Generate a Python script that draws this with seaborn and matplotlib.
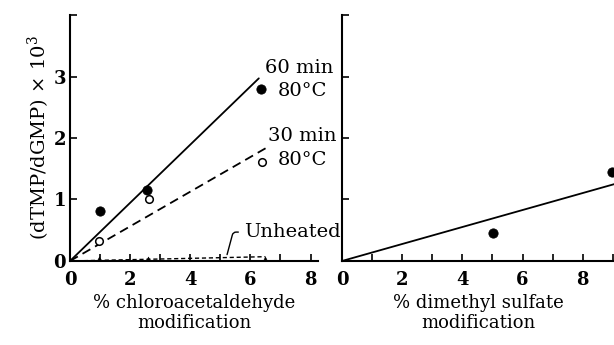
import matplotlib
matplotlib.use("Agg")
import matplotlib.pyplot as plt
import seaborn as sns

# left panel: chloroacetaldehyde
ca_60_x = [1.0, 2.55, 6.35]
ca_60_y = [0.81, 1.15, 2.80]
ca_30_x = [0.97, 2.62, 6.38]
ca_30_y = [0.33, 1.00, 1.61]
ca_unh_x = [0.95, 2.6, 6.5]
ca_unh_y = [0.02, 0.02, 0.01]
fit60_x = [0, 6.28]
fit60_y = [0, 2.97]
fit30_x = [0, 6.53]
fit30_y = [0, 1.84]
fitunh_x = [0, 6.5]
fitunh_y = [0, 0.07]

# right panel: dimethyl sulfate
dms_x = [5.02, 8.97]
dms_y = [0.45, 1.44]
fitdms_x = [0, 9.05]
fitdms_y = [0, 1.25]

sns.set_style("ticks")
plt.rcParams["font.family"] = ["DejaVu Serif"]
plt.rcParams["mathtext.fontset"] = "dejavuserif"
plt.rcParams["text.color"] = "black"
plt.rcParams["axes.labelcolor"] = "black"
plt.rcParams["xtick.color"] = "black"
plt.rcParams["ytick.color"] = "black"

fig = plt.figure(figsize=(6.14, 3.45), dpi=100)
ax1 = fig.add_axes([0.114, 0.2435, 0.404, 0.713])
ax2 = fig.add_axes([0.557, 0.2435, 0.443, 0.713])

k = dict(color="black", linewidth=1.3)
sns.lineplot(x=fit60_x, y=fit60_y, ax=ax1, **k)
sns.lineplot(x=fit30_x, y=fit30_y, ax=ax1, linestyle=(0, (5, 3)), **k)
sns.lineplot(x=fitunh_x, y=fitunh_y, ax=ax1, linestyle=(0, (3, 2)), color="black", linewidth=1.0)
sns.scatterplot(x=ca_60_x, y=ca_60_y, ax=ax1, color="black", s=45, edgecolor="black", zorder=5)
sns.scatterplot(x=ca_30_x, y=ca_30_y, ax=ax1, color="white", s=30, edgecolor="black", linewidth=1.1, zorder=5)
sns.scatterplot(x=ca_unh_x, y=ca_unh_y, ax=ax1, color="black", marker="^", s=25, edgecolor="black", zorder=5)

sns.lineplot(x=fitdms_x, y=fitdms_y, ax=ax2, **k)
sns.scatterplot(x=dms_x, y=dms_y, ax=ax2, color="black", s=45, edgecolor="black", zorder=5, clip_on=False)

for ax, xmax in [(ax1, 8.25), (ax2, 9.04)]:
    ax.set_xlim(0, xmax)
    ax.set_ylim(0, 4)
    sns.despine(ax=ax)
    ax.spines["left"].set_linewidth(1.5)
    ax.spines["bottom"].set_linewidth(1.5)
    ax.spines["left"].set_color("black")
    ax.spines["bottom"].set_color("black")
    ax.set_xticks([0, 2, 4, 6, 8])
    ax.set_xticks(range(1, int(xmax) + 1, 2), minor=True)
    ax.set_yticks([0, 1, 2, 3, 4])
    ax.tick_params(direction="in", length=5, width=1.2, labelsize=13)
    ax.tick_params(axis="x", pad=7)
    ax.tick_params(axis="y", pad=3)
    ax.tick_params(which="minor", direction="in", length=5, width=1.2)
    for t in ax.get_xticklabels() + ax.get_yticklabels():
        t.set_fontweight("bold")

ax1.set_yticklabels(["0", "1", "2", "3", ""])
ax2.set_yticklabels([])

ax1.set_ylabel(r"(dTMP/dGMP) $\times$ 10$^3$", fontsize=14, labelpad=1)
ax1.set_xlabel("% chloroacetaldehyde\nmodification", fontsize=13, linespacing=1.15, labelpad=4)
ax2.set_xlabel("% dimethyl sulfate\nmodification", fontsize=13, linespacing=1.15, labelpad=4)

ax1.text(6.48, 3.14, "60 min", fontsize=14, va="center")
ax1.text(6.9, 2.77, "80°C", fontsize=14, va="center")
ax1.text(6.58, 2.04, "30 min", fontsize=14, va="center")
ax1.text(6.9, 1.64, "80°C", fontsize=14, va="center")
ax1.annotate("Unheated", xy=(5.2, 0.06), xytext=(5.8, 0.47), fontsize=14, va="center",
             arrowprops=dict(arrowstyle="-", color="black", lw=1.0,
                             connectionstyle="angle,angleA=180,angleB=75,rad=3"))

fig.savefig("out.png", dpi=100)
